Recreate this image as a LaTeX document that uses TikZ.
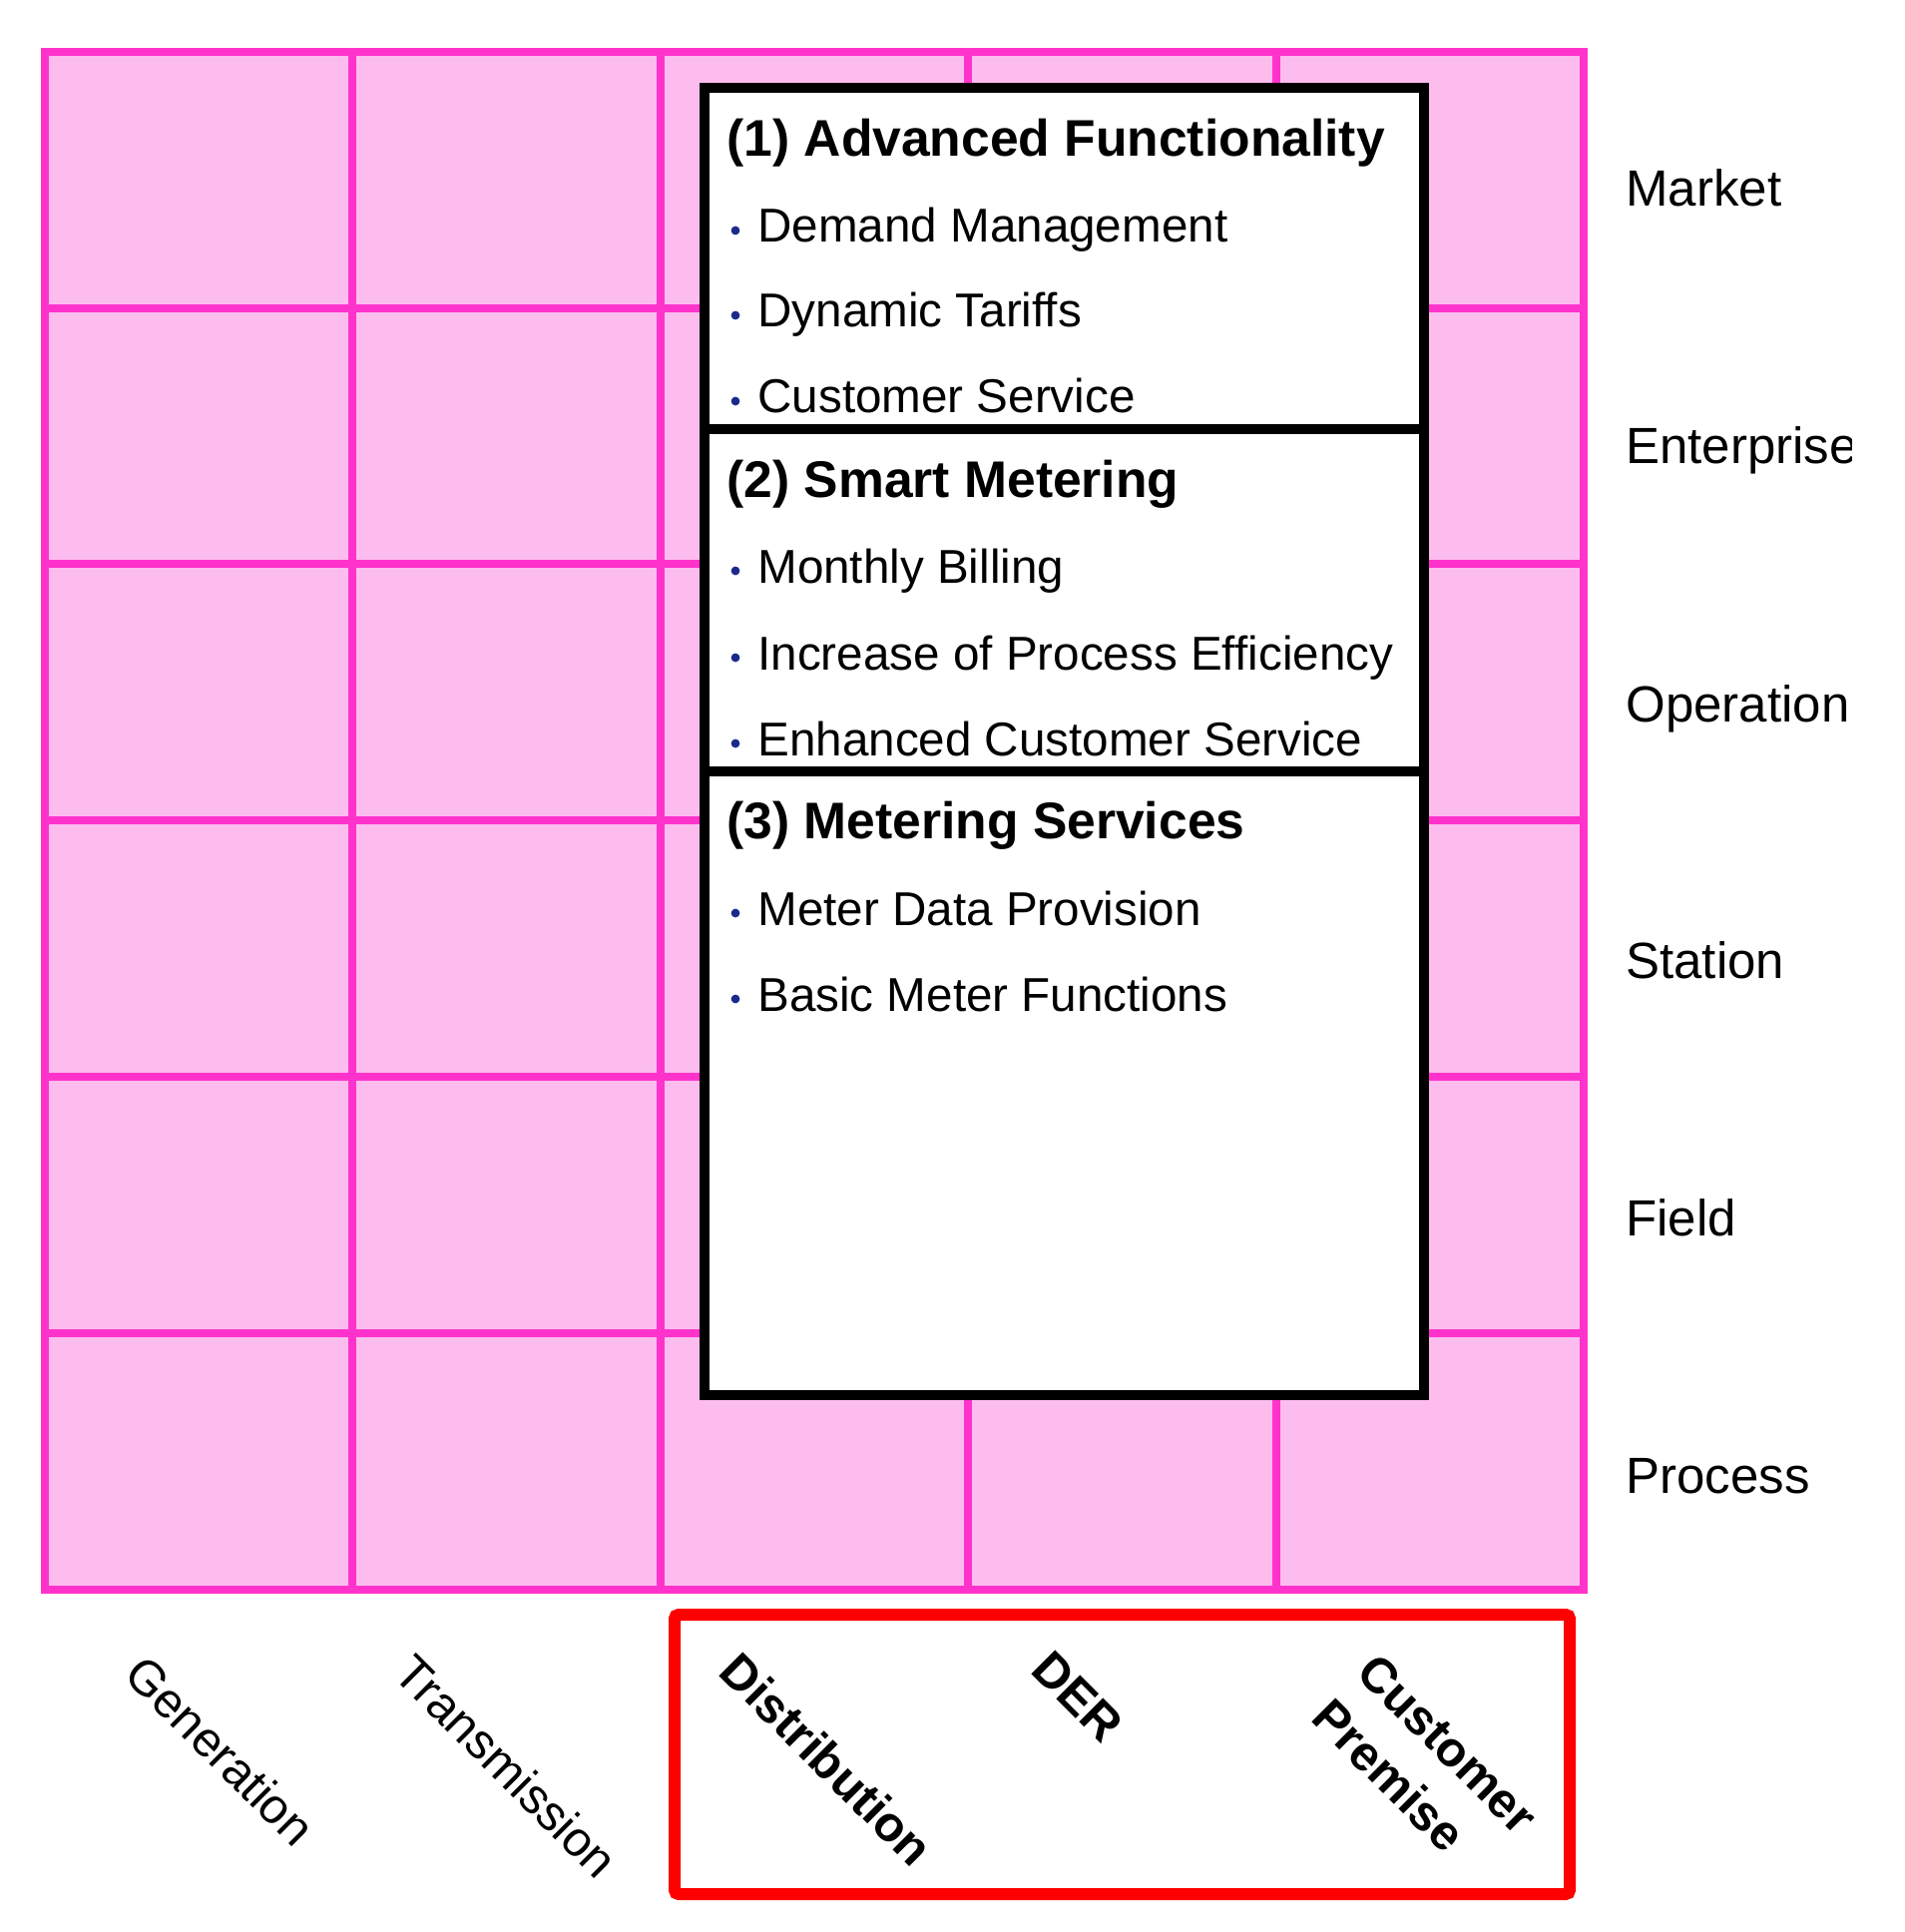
\documentclass[tikz,border=0pt]{standalone}
\usepackage{fontspec}
\setmainfont{Liberation Sans}
\definecolor{gridfill}{HTML}{FDBCEE}
\definecolor{gridline}{HTML}{FF33CC}
\definecolor{bulletblue}{HTML}{1A2A8C}
\definecolor{domainred}{HTML}{FF0000}
\begin{document}
\begin{tikzpicture}[x=0.5pt,y=-0.5pt,
  gridpen/.style={draw=gridline, line width=4pt},
  boxpen/.style={draw=black, line width=5pt},
  head/.style={anchor=base west, inner sep=0pt, font=\fontsize{25.8pt}{30pt}\selectfont\bfseries},
  item/.style={anchor=base west, inner sep=0pt, font=\fontsize{23.8pt}{28pt}\selectfont},
  layer/.style={anchor=base west, inner sep=0pt, font=\fontsize{25.5pt}{30pt}\selectfont},
  domainlabel/.style={rotate=-45, inner sep=0pt, align=left, font=\fontsize{24.6pt}{32pt}\selectfont},
  bdomainlabel/.style={domainlabel, font=\fontsize{24.6pt}{32pt}\selectfont\bfseries},
  bulletdot/.style={circle, fill=bulletblue, inner sep=0pt, minimum size=4.4pt}]
\useasboundingbox (0,0) rectangle (1909,1936);
% grid
\fill[gridfill] (45,52) rectangle (1587,1593);
\foreach \x in {353,662,970,1279} \draw[gridpen] (\x,52) -- (\x,1593);
\foreach \y in {309,565,822,1079,1336} \draw[gridpen] (45,\y) -- (1587,\y);
\draw[gridpen] (45,52) rectangle (1587,1593);
% white box
\filldraw[fill=white, boxpen] (706,88) rectangle (1427,1398);
\draw[boxpen] (706,430.5) -- (1427,430.5);
\draw[boxpen] (706,773) -- (1427,773);
% headings
\node[head] (h1) at (728,157) {(1) Advanced Functionality};
\node[head] (h2) at (728,498) {(2) Smart Metering};
\node[head] (h3) at (728,840) {(3) Metering Services};
% items
\node[item] (i11) at (759,243) {Demand Management};
\node[item] (i12) at (759,328) {Dynamic Tariffs};
\node[item] (i13) at (759,414) {Customer Service};
\node[item] (i21) at (759,584) {Monthly Billing};
\node[item] (i22) at (759,671) {Increase of Process Efficiency};
\node[item] (i23) at (759,757) {Enhanced Customer Service};
\node[item] (i31) at (759,927) {Meter Data Provision};
\node[item] (i32) at (759,1013) {Basic Meter Functions};
% bullets
\node[bulletdot] (b11) at (737,231) {};
\node[bulletdot] (b12) at (737,316) {};
\node[bulletdot] (b13) at (737,402) {};
\node[bulletdot] (b21) at (737,572) {};
\node[bulletdot] (b22) at (737,659) {};
\node[bulletdot] (b23) at (737,745) {};
\node[bulletdot] (b31) at (737,915) {};
\node[bulletdot] (b32) at (737,1001) {};
% layer labels (clipped at right like the reference)
\begin{scope}
\clip (0,0) rectangle (1855,1936);
\node[layer] (market) at (1629,207) {Market};
\node[layer] (enterprise) at (1629,465) {Enterprise};
\node[layer] (operation) at (1629,723) {Operation};
\node[layer] (station) at (1629,980) {Station};
\node[layer] (field) at (1629,1238) {Field};
\node[layer] (process) at (1629,1496) {Process};
\end{scope}
% domain frame
\draw[draw=domainred, line width=6pt, rounded corners=2pt] (676,1618) rectangle (1573,1898);
% domain labels
\node[domainlabel] (gen) at (221,1754) {Generation};
\node[domainlabel] (trans) at (508,1770) {Transmission};
\node[bdomainlabel] (dist) at (829,1763) {Distribution};
\node[bdomainlabel] (der) at (1080,1700) {DER};
\node[bdomainlabel] (cust) at (1428,1770) {Customer\\Premise};
\end{tikzpicture}
\end{document}
